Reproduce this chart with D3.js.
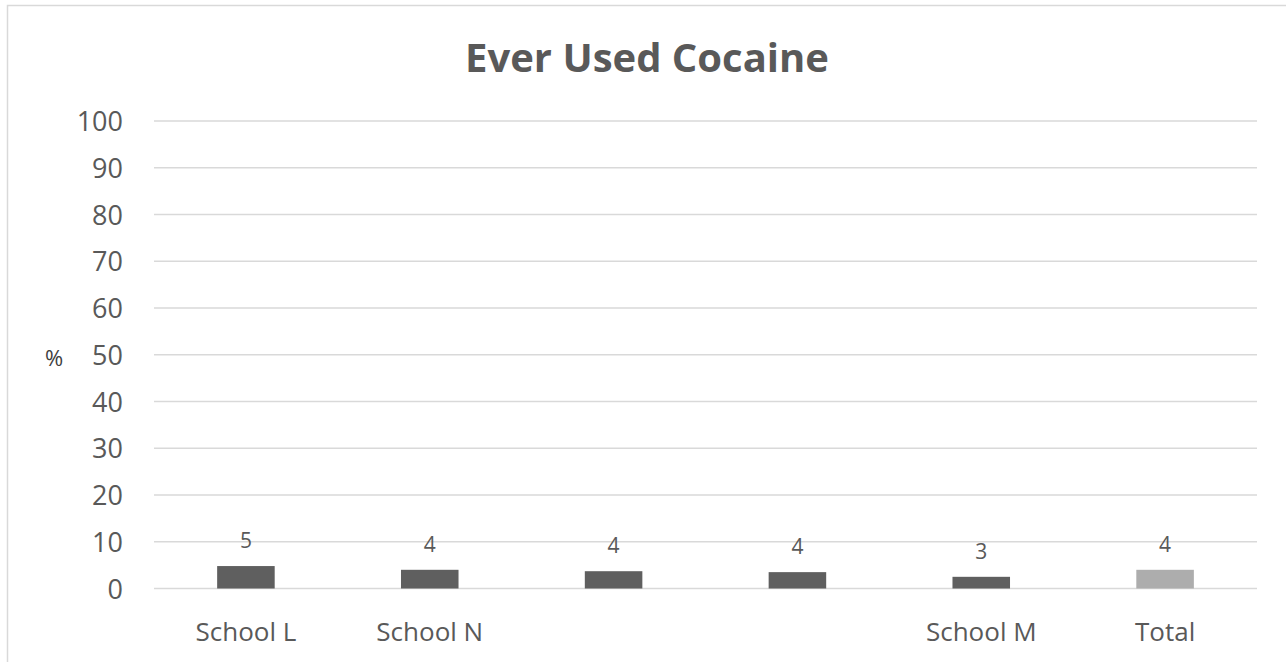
<!DOCTYPE html>
<html>
<head>
<meta charset="utf-8">
<script src="https://cdn.jsdelivr.net/npm/d3@7"></script>
<style>
  html, body { margin: 0; padding: 0; background: #ffffff; }
  svg { display: block; }
  text { font-family: "Open Sans", "DejaVu Sans", sans-serif; }
</style>
</head>
<body>
<svg id="chart" width="1286" height="662"></svg>
<script>
// Share of students who have ever used cocaine, by school
const categories = ["School L", "School N", "", "", "School M", "Total"];
const values = [4.8, 4.0, 3.7, 3.5, 2.5, 4.0];
const isTotal = [false, false, false, false, false, true];
const yTicks = [0, 10, 20, 30, 40, 50, 60, 70, 80, 90, 100];
const titleText = "Ever Used Cocaine";
const yAxisLabel = "%";

const svg = d3.select("#chart");
const W = 1286, H = 662;
const plot = { left: 154, right: 1257, top: 121, bottom: 588.5 };

// chart frame
svg.append("rect")
  .attr("x", 7.5).attr("y", 5.5)
  .attr("width", W + 20).attr("height", H + 20)
  .attr("fill", "#ffffff")
  .attr("stroke", "#d9d9d9").attr("stroke-width", 1.5);

const idx = categories.map((_, i) => i);
const x = d3.scaleBand().domain(idx).range([plot.left, plot.right]).paddingInner(0).paddingOuter(0);
const y = d3.scaleLinear().domain([0, 100]).range([plot.bottom, plot.top]);
const barW = x.bandwidth() * 0.313;

// gridlines
svg.append("g")
  .selectAll("line")
  .data(yTicks)
  .join("line")
  .attr("x1", plot.left).attr("x2", plot.right)
  .attr("y1", d => y(d)).attr("y2", d => y(d))
  .attr("stroke", "#d9d9d9").attr("stroke-width", 1.5);

// y axis labels
const yAxis = d3.axisLeft(y).tickValues(yTicks).tickSize(0).tickPadding(0).tickFormat(d3.format("d"));
const yG = svg.append("g").attr("transform", `translate(${plot.left - 31},0)`).call(yAxis);
yG.select(".domain").remove();
yG.selectAll("text")
  .attr("font-family", "'Open Sans', sans-serif")
  .attr("font-size", 27)
  .attr("fill", "#595959")
  .attr("dy", "0.36em");

// y axis title
svg.append("text")
  .attr("x", 54).attr("y", 357)
  .attr("text-anchor", "middle").attr("dominant-baseline", "central")
  .attr("font-size", 22)
  .attr("fill", "#404040")
  .text(yAxisLabel);

// bars
svg.append("g")
  .selectAll("rect")
  .data(idx)
  .join("rect")
  .attr("x", i => x(i) + x.bandwidth() / 2 - barW / 2)
  .attr("width", barW)
  .attr("y", i => y(values[i]))
  .attr("height", i => y(0) - y(values[i]))
  .attr("fill", i => isTotal[i] ? "#adadad" : "#5f5f5f");

// value labels
svg.append("g")
  .selectAll("text")
  .data(idx)
  .join("text")
  .attr("x", i => x(i) + x.bandwidth() / 2)
  .attr("y", i => y(values[i]) - 18)
  .attr("text-anchor", "middle")
  .attr("font-size", 21)
  .attr("fill", "#595959")
  .text(i => d3.format(".0f")(values[i]));

// category labels
const xAxis = d3.axisBottom(x).tickSize(0).tickPadding(0).tickFormat(i => categories[i]);
const xG = svg.append("g").attr("transform", `translate(0,${plot.bottom + 52})`).call(xAxis);
xG.select(".domain").remove();
xG.selectAll("text")
  .attr("font-family", "'Open Sans', sans-serif")
  .attr("font-size", 26)
  .attr("fill", "#595959")
  .attr("dy", 0);

// title
svg.append("text")
  .attr("x", 647).attr("y", 72)
  .attr("text-anchor", "middle")
  .attr("font-size", 40)
  .attr("font-weight", 700)
  .attr("fill", "#595959")
  .text(titleText);
</script>
</body>
</html>
